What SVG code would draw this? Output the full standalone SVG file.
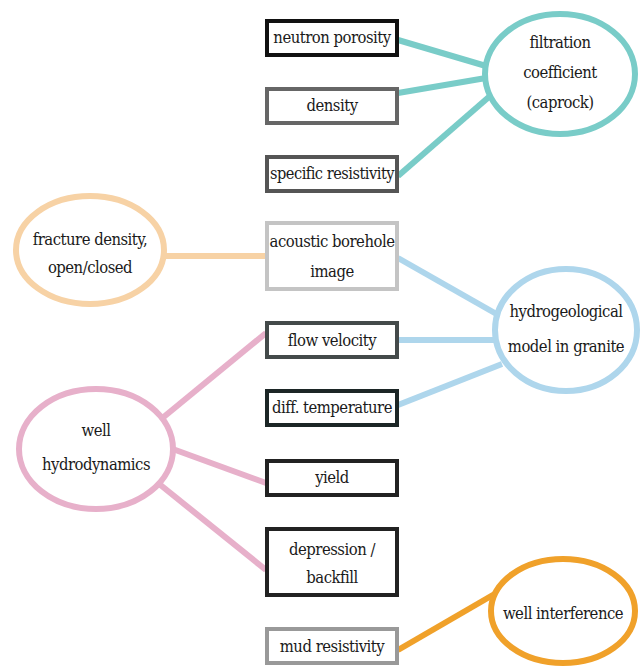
<svg xmlns="http://www.w3.org/2000/svg" width="643" height="668" viewBox="0 0 643 668">
<style>
text{font-family:'DejaVu Serif Condensed','DejaVu Serif','Liberation Serif','Times New Roman',Tinos,'Noto Serif',serif;font-size:16.5px;fill:#1a1a1a;text-anchor:middle;letter-spacing:-0.5px}
.box{fill:#fff;stroke-width:4}
.ell{fill:#fff;stroke-width:6}
.con line{stroke-width:6;stroke-linecap:butt}
</style>
<rect width="643" height="668" fill="#fff"/>
<g id="connectors" class="con">
<line x1="398" y1="40" x2="486" y2="66" stroke="#79ccc8"/>
<line x1="398" y1="93" x2="486" y2="78" stroke="#79ccc8"/>
<line x1="398" y1="176" x2="490" y2="96" stroke="#79ccc8"/>
<line x1="164" y1="256" x2="266" y2="256" stroke="#f7d2a5" stroke-width="5"/>
<line x1="398" y1="258" x2="500" y2="316" stroke="#aed6ec"/>
<line x1="398" y1="340" x2="494" y2="340" stroke="#aed6ec"/>
<line x1="398" y1="405" x2="502" y2="364" stroke="#aed6ec"/>
<line x1="160" y1="420" x2="266" y2="333" stroke="#e7b0ca" stroke-width="5"/>
<line x1="170" y1="448" x2="266" y2="483" stroke="#e7b0ca" stroke-width="5"/>
<line x1="158" y1="483" x2="266" y2="570" stroke="#e7b0ca" stroke-width="5"/>
<line x1="398" y1="650" x2="498" y2="592" stroke="#f0a12a"/>
</g>
<g id="n-neutron"><rect class="box" x="267" y="21" width="130" height="34" stroke="#111"/><text x="332" y="43">neutron porosity</text></g>
<g id="n-density"><rect class="box" x="267" y="89" width="130" height="34" stroke="#666"/><text x="332" y="111">density</text></g>
<g id="n-specres"><rect class="box" x="267" y="157" width="130" height="34" stroke="#555"/><text x="332" y="179" textLength="124" lengthAdjust="spacingAndGlyphs">specific resistivity</text></g>
<g id="n-filtration"><ellipse class="ell" cx="560" cy="74" rx="75" ry="60" stroke="#79ccc8"/><text x="560" y="48">filtration</text><text x="560" y="78">coefficient</text><text x="560" y="108">(caprock)</text></g>
<g id="n-fracture"><ellipse class="ell" cx="90" cy="250" rx="74" ry="54" stroke="#f7d2a5"/><text x="90" y="245">fracture density,</text><text x="90" y="273">open/closed</text></g>
<g id="n-acoustic"><rect class="box" x="267" y="223" width="130" height="66" stroke="#c4c4c4"/><text x="332" y="247">acoustic borehole</text><text x="332" y="277">image</text></g>
<g id="n-hydro"><ellipse class="ell" cx="566" cy="330" rx="71" ry="61" stroke="#aed6ec"/><text x="566" y="317">hydrogeological</text><text x="566" y="352">model in granite</text></g>
<g id="n-flow"><rect class="box" x="267" y="323" width="130" height="34" stroke="#444a4a"/><text x="332" y="346">flow velocity</text></g>
<g id="n-difft"><rect class="box" x="267" y="391" width="130" height="34" stroke="#1c2626"/><text x="332" y="413">diff. temperature</text></g>
<g id="n-well"><ellipse class="ell" cx="96" cy="449" rx="77" ry="60" stroke="#e7b0ca"/><text x="96" y="436">well</text><text x="96" y="470">hydrodynamics</text></g>
<g id="n-yield"><rect class="box" x="267" y="461" width="130" height="34" stroke="#222"/><text x="332" y="483">yield</text></g>
<g id="n-depression"><rect class="box" x="267" y="529" width="130" height="66" stroke="#222"/><text x="332" y="555">depression /</text><text x="332" y="583">backfill</text></g>
<g id="n-mud"><rect class="box" x="267" y="629" width="130" height="34" stroke="#999"/><text x="332" y="652">mud resistivity</text></g>
<g id="n-interference"><ellipse class="ell" cx="563" cy="611" rx="72" ry="52" stroke="#f0a12a"/><text x="563" y="619">well interference</text></g>
</svg>
